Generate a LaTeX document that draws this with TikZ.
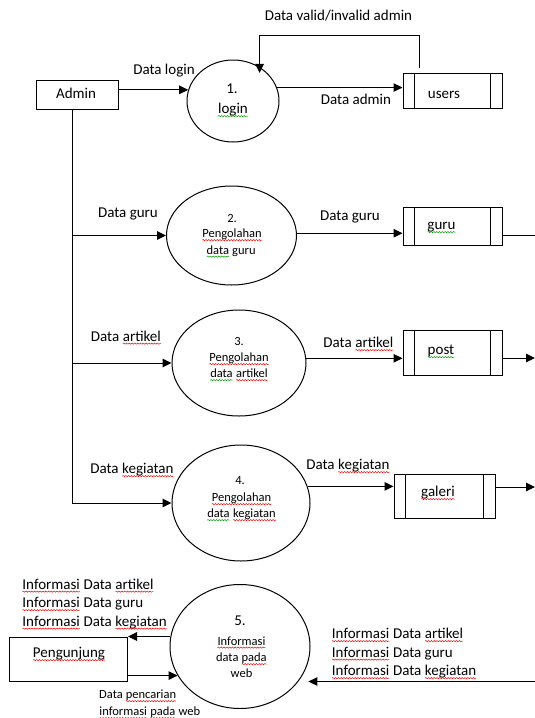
\documentclass[tikz,border=0pt]{standalone}
\usepackage{fontspec}
\setmainfont{Carlito}
\usetikzlibrary{arrows.meta,shapes.geometric,decorations.pathmorphing}
\newcommand\wavyword[2]{\tikz[baseline=(w.base),x=1pt,y=1pt]{\node[inner sep=0pt,outer sep=0pt,text height=,text depth=,anchor=base](w) at (0,0){#2};\draw[#1,line width=0.5pt,decorate,decoration={snake,amplitude=0.6pt,segment length=2.8pt}]([yshift=-2.3pt]w.base west)--([yshift=-2.3pt]w.base east);}}
\newcommand\redwave[1]{\wavyword{red}{#1}}
\newcommand\greenwave[1]{\wavyword{green!60!black}{#1}}
\tikzset{
  line/.style={draw=black, line width=1pt},
  arr/.style={line, -{Triangle[length=9pt,width=8.5pt]}},
  proc/.style={ellipse, draw=black, line width=1pt, inner sep=0pt},
  ent/.style={rectangle, draw=black, line width=1pt, inner sep=0pt},
  store/.style={rectangle, draw=black, line width=1pt, inner sep=0pt,
    path picture={
      \draw[line width=1pt] ([xshift=11.5pt]path picture bounding box.north west) -- ([xshift=11.5pt]path picture bounding box.south west);
      \draw[line width=1pt] ([xshift=-11.5pt]path picture bounding box.north east) -- ([xshift=-11.5pt]path picture bounding box.south east);}},
  lbl/.style={inner sep=0pt, font=\fontsize{15}{18}\selectfont, text height=1.6ex, text depth=0pt},
  sml/.style={inner sep=0pt, font=\fontsize{12.5}{15}\selectfont, text height=1.6ex, text depth=0pt},
}
\begin{document}
\begin{tikzpicture}[x=1pt,y=-1pt]
\useasboundingbox (0,0) rectangle (535,718);
\fill[white] (0,0) rectangle (535,718);

% entities and stores
\node[ent, minimum width=82pt, minimum height=29pt] (admin) at (77,94.5) {};
\node[ent, minimum width=118pt, minimum height=44pt] (pg) at (68.5,659) {};
\node[store, minimum width=99pt, minimum height=35.5pt] (users) at (452.5,90.75) {};
\node[store, minimum width=99pt, minimum height=38pt] (guru) at (452.5,226) {};
\node[store, minimum width=99pt, minimum height=45pt] (post) at (452.5,352.5) {};
\node[store, minimum width=101pt, minimum height=44pt] (galeri) at (444.5,496) {};

% processes
\node[proc, minimum width=92pt, minimum height=82pt] (c1) at (233,101) {};
\node[proc, minimum width=130pt, minimum height=99pt] (c2) at (231.5,235.5) {};
\node[proc, minimum width=134pt, minimum height=106pt] (c3) at (239,363) {};
\node[proc, minimum width=138pt, minimum height=116pt] (c4) at (241,503) {};
\node[proc, minimum width=140pt, minimum height=124pt] (c5) at (240,646.5) {};

% texts in boxes
\node[lbl] (tadmin) at (76,95) {Admin};
\node[lbl] (tusers) at (444,95) {users};
\node[lbl] (tguru) at (441.5,226) {\greenwave{guru}};
\node[lbl] (tpost) at (441,351) {\greenwave{post}};
\node[lbl] (tgaleri) at (438,493) {\redwave{galeri}};
\node[lbl] (tpg) at (69,654) {\redwave{Pengunjung}};

% texts in processes
\node[lbl] (p1a) at (232,90) {1.};
\node[lbl] (p1b) at (233,110) {\greenwave{login}};
\node[sml] (p2a) at (232,219) {2.};
\node[sml] (p2b) at (232,234) {\redwave{Pengolahan}};
\node[sml] (p2c) at (231,250.5) {\greenwave{data} guru};
\node[sml] (p3a) at (239,342) {3.};
\node[sml] (p3b) at (239,358) {\redwave{Pengolahan}};
\node[sml] (p3c) at (239,374) {\greenwave{data} \redwave{artikel}};
\node[sml] (p4a) at (240,481) {4.};
\node[sml] (p4b) at (241.5,498) {\redwave{Pengolahan}};
\node[sml] (p4c) at (241.5,514) {\greenwave{data} \redwave{kegiatan}};
\node[lbl] (p5a) at (240,622) {5.};
\node[sml] (p5b) at (241.5,641.5) {\redwave{Informasi}};
\node[sml] (p5c) at (241.5,658) {data \redwave{pada}};
\node[sml] (p5d) at (241.5,674) {web};

% admin trunk
\coordinate (aline) at ([xshift=-5pt]admin.south);
\draw[arr] (aline) |- (c4.west);
\draw[arr] (aline |- c2.west) -- (c2.west);
\draw[arr] (aline |- c3.west) -- (c3.west);

% login flows
\draw[arr] (admin.east |- c1.166) -- (c1.166);
\draw[arr] (c1.17.5) -- (c1.17.5 -| users.west);
\coordinate (fbstart) at ([xshift=17pt,yshift=5pt]users.north west);
\draw[arr] (fbstart) -- ++(0,-32) -| ([yshift=-6pt]c1.52.4);

% process to stores
\draw[arr] (c2.2) -- (c2.2 -| guru.west);
\draw[arr] (c3.4) -- (c3.4 -| post.west);
\draw[arr] (c4.14) -- (c4.14 -| galeri.west);

% store outflows
\coordinate (gout) at (535,235);
\coordinate (pout) at (535,358);
\coordinate (gaout) at (535,487);
\coordinate (webin) at (535,681.5);
\draw[line] (guru.east |- gout) -- (gout);
\draw[arr] (post.east |- pout) -- (pout);
\draw[arr] (galeri.east |- gaout) -- (gaout);
\draw[arr] (webin) -- ([xshift=10pt]webin -| c5.-31.2);

% visitor flows
\draw[arr] (pg.north east -| c5.172) -- (pg.north east);
\draw[arr] (pg.east |- c5.205.8) -- (c5.205.8);

% flow labels
\node[lbl] (lvalid) at (338.5,17) {Data valid/invalid admin};
\node[lbl] (llogin) at (164,71) {Data login};
\node[lbl] (ladmin) at (356,101) {Data admin};
\node[lbl] (lguru1) at (128,214) {Data guru};
\node[lbl] (lguru2) at (350,217) {Data guru};
\node[lbl] (lart1) at (126,337.5) {Data \redwave{artikel}};
\node[lbl] (lart2) at (358.5,344) {Data \redwave{artikel}};
\node[lbl] (lkeg1) at (132,470) {Data \redwave{kegiatan}};
\node[lbl] (lkeg2) at (348,466) {Data \redwave{kegiatan}};

\node[lbl, anchor=west] (li1) at (22,585.5) {\redwave{Informasi} Data \redwave{artikel}};
\node[lbl, anchor=west] (li2) at (22,604) {\redwave{Informasi} Data guru};
\node[lbl, anchor=west] (li3) at (22,622.5) {\redwave{Informasi} Data \redwave{kegiatan}};
\node[lbl, anchor=west] (ri1) at (331.5,635) {\redwave{Informasi} Data \redwave{artikel}};
\node[lbl, anchor=west] (ri2) at (331.5,653.5) {\redwave{Informasi} Data guru};
\node[lbl, anchor=west] (ri3) at (331.5,672) {\redwave{Informasi} Data \redwave{kegiatan}};
\node[sml, anchor=west] (s1) at (99,695) {Data \redwave{pencarian}};
\node[sml, anchor=west] (s2) at (99,712) {\redwave{informasi} \redwave{pada} web};
\end{tikzpicture}
\end{document}
